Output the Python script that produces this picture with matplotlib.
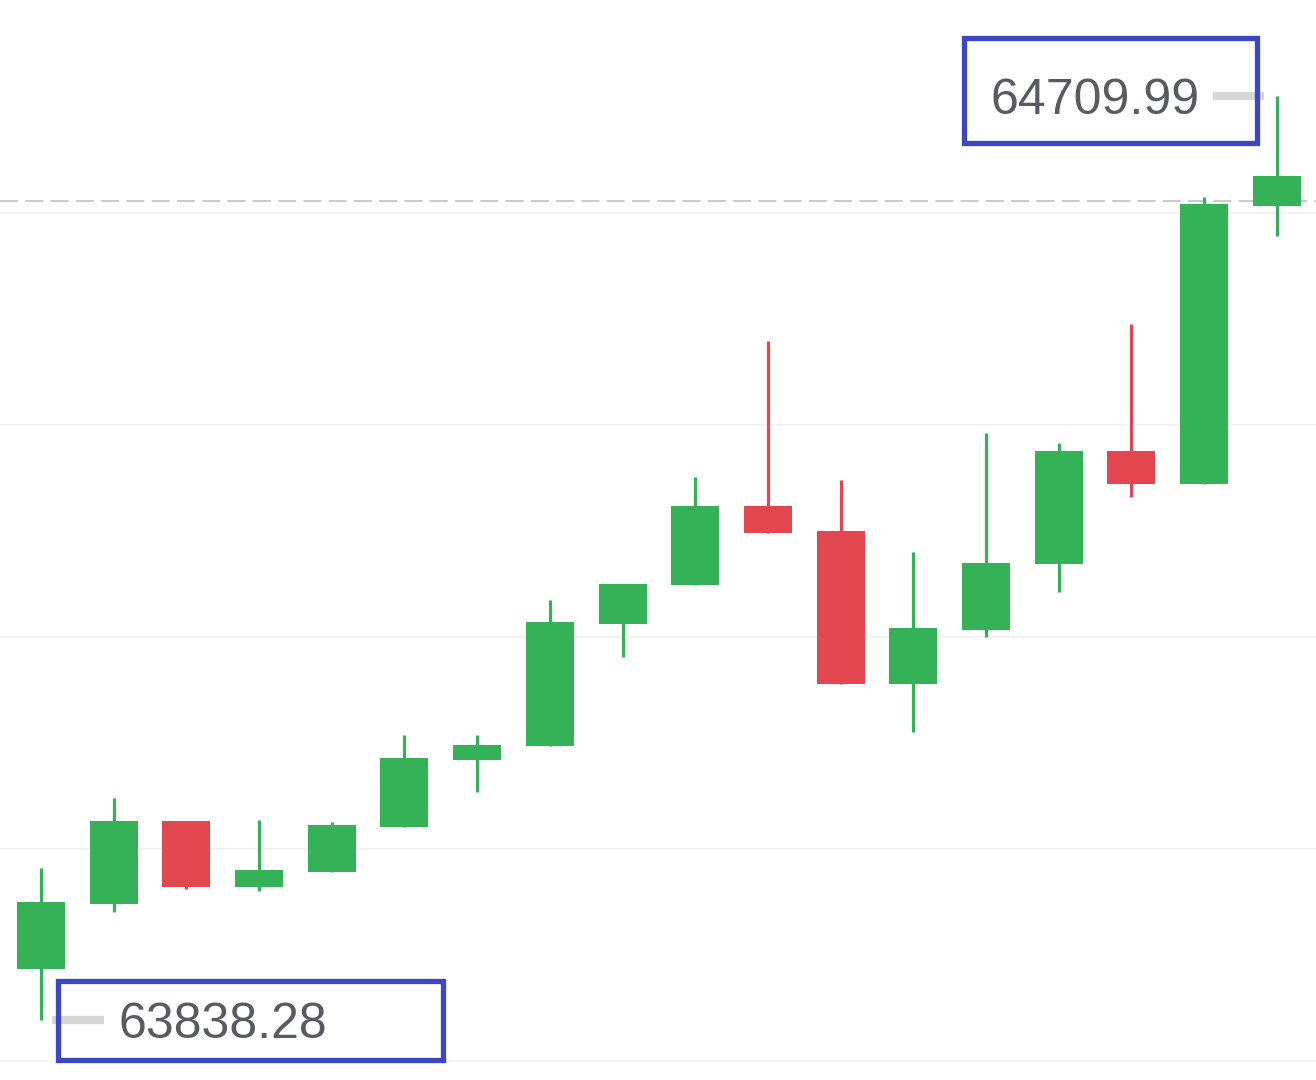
import matplotlib.pyplot as plt
from matplotlib.patches import Rectangle

# OHLC values
opens = [63886.8, 63948.1, 64026.4, 63964.2, 63978.3, 64020.8, 64084.0, 64097.2, 64212.3,
         64249.1, 64323.6, 64300.0, 64155.7, 64206.6, 64268.9, 64375.5, 64344.3, 64606.6]
highs = [63982.0, 64048.1, 64026.4, 64027.4, 64025.5, 64107.5, 64107.5, 64234.9, 64250.0,
         64350.9, 64479.2, 64348.1, 64280.2, 64392.5, 64383.0, 64495.3, 64615.1, 64709.99]
lows = [63838.28, 63940.6, 63962.3, 63960.4, 63978.3, 64020.8, 64053.8, 64097.2, 64181.1,
        64249.1, 64298.1, 64155.7, 64110.4, 64200.0, 64242.5, 64332.1, 64344.3, 64578.3]
closes = [63950.0, 64026.4, 63964.2, 63980.2, 64022.6, 64085.8, 64098.1, 64214.2, 64250.0,
          64323.6, 64298.1, 64155.7, 64208.5, 64269.8, 64375.5, 64344.3, 64608.5, 64634.9]
last_price = 64611.3
grid_levels = [63800, 64000, 64200, 64400, 64600]

up_color = "#35b157"
down_color = "#e2464f"

fig = plt.figure(figsize=(13.16, 10.8), dpi=100)
ax = fig.add_axes([0, 0, 1, 1])

x = list(range(len(opens)))
colors = [up_color if c >= o else down_color for o, c in zip(opens, closes)]

# grille horizontale tres claire
for g in grid_levels:
    ax.axhline(g, color="#f1f4f7", lw=1.6, zorder=0)

# meches puis corps
ax.vlines(x, lows, highs, colors=colors, lw=2.3, zorder=2)
bottoms = [min(o, c) for o, c in zip(opens, closes)]
heights = [max(abs(c - o), 0.5) for o, c in zip(opens, closes)]
ax.bar(x, heights, bottom=bottoms, width=0.66, color=colors, zorder=3)

# ligne du dernier prix
ax.axhline(last_price, color="#c4c6cb", lw=1.3, ls=(0, (10, 4)), zorder=1)

# etiquettes du plus haut / plus bas
i_hi = highs.index(max(highs))
i_lo = lows.index(min(lows))
ax.plot([i_hi - 0.88, i_hi - 0.17], [highs[i_hi]] * 2, color="#d6d7d9", lw=6,
        solid_capstyle="butt", zorder=1)
ax.text(i_hi - 1.06, highs[i_hi] - 4, f"{highs[i_hi]:.2f}", ha="right", va="center",
        fontsize=36, color="#585c62", family="Liberation Sans")
ax.plot([i_lo + 0.15, i_lo + 0.87], [lows[i_lo]] * 2, color="#d6d7d9", lw=6,
        solid_capstyle="butt", zorder=1)
ax.text(i_lo + 1.06, lows[i_lo] - 4, f"{lows[i_lo]:.2f}", ha="left", va="center",
        fontsize=36, color="#585c62", family="Liberation Sans")

# cadres bleus de mise en evidence
for (bx, by, bw, bh) in [(0.7325, 0.8676, 0.2226, 0.0972), (0.0441, 0.0185, 0.2926, 0.0731)]:
    fig.patches.append(Rectangle((bx, by), bw, bh, transform=fig.transFigure,
                                 fill=False, edgecolor="#3d47c6", lw=3.8, zorder=10))

ax.set_xlim(-0.564, 17.54)
ax.set_ylim(63782.1, 64800.9)
ax.axis("off")

plt.savefig("out.png", dpi=100)
